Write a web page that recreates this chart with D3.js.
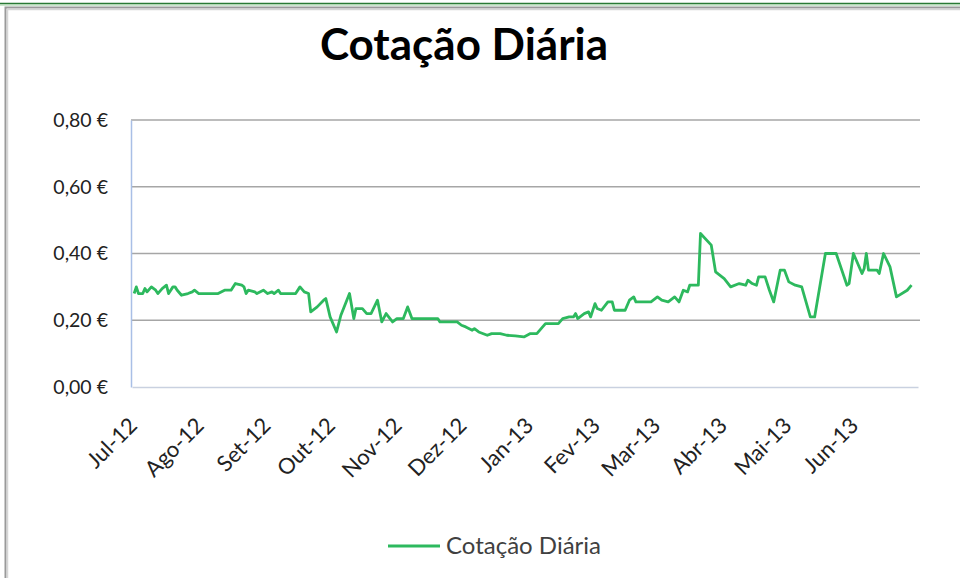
<!DOCTYPE html>
<html>
<head>
<meta charset="utf-8">
<script src="https://cdn.jsdelivr.net/npm/d3@7"></script>
<style>
body { margin: 0; background: #fff; }
svg { display: block; }
text { font-family: Lato, "Open Sans", sans-serif; }
</style>
</head>
<body>
<svg id="chart" width="960" height="578"></svg>
<script>
// daily price readings
var dates = [
  "2012-07-02","2012-07-03","2012-07-04","2012-07-06","2012-07-07","2012-07-08",
  "2012-07-10","2012-07-12","2012-07-13","2012-07-15","2012-07-17","2012-07-18",
  "2012-07-20","2012-07-21","2012-07-22","2012-07-24","2012-07-27","2012-07-29",
  "2012-07-30","2012-08-01","2012-08-10","2012-08-13","2012-08-16","2012-08-18",
  "2012-08-21","2012-08-22","2012-08-23","2012-08-24","2012-08-27","2012-08-28",
  "2012-08-31","2012-09-02","2012-09-04","2012-09-05","2012-09-07","2012-09-08",
  "2012-09-15","2012-09-17","2012-09-19","2012-09-21","2012-09-22","2012-09-25",
  "2012-09-28","2012-09-29","2012-10-01","2012-10-04","2012-10-06","2012-10-10",
  "2012-10-12","2012-10-13","2012-10-16","2012-10-18","2012-10-20","2012-10-23",
  "2012-10-25","2012-10-27","2012-10-30","2012-11-01","2012-11-04","2012-11-06",
  "2012-11-08","2012-11-20","2012-11-21","2012-11-29","2012-12-01","2012-12-03",
  "2012-12-06","2012-12-07","2012-12-09","2012-12-13","2012-12-15","2012-12-19",
  "2012-12-22","2012-12-26","2012-12-30","2013-01-02","2013-01-05","2013-01-09",
  "2013-01-15","2013-01-17","2013-01-20","2013-01-22","2013-01-23","2013-01-24",
  "2013-01-27","2013-01-29","2013-01-30","2013-02-01","2013-02-02","2013-02-04",
  "2013-02-07","2013-02-09","2013-02-10","2013-02-15","2013-02-17","2013-02-19",
  "2013-02-20","2013-02-27","2013-03-02","2013-03-04","2013-03-07","2013-03-10",
  "2013-03-12","2013-03-14","2013-03-16","2013-03-17","2013-03-21","2013-03-22",
  "2013-03-27","2013-03-29","2013-04-02","2013-04-05","2013-04-09","2013-04-12",
  "2013-04-13","2013-04-15","2013-04-17","2013-04-18","2013-04-21","2013-04-23",
  "2013-04-25","2013-04-28","2013-04-30","2013-05-02","2013-05-05","2013-05-08",
  "2013-05-12","2013-05-14","2013-05-19","2013-05-24","2013-05-29","2013-05-30",
  "2013-06-01","2013-06-05","2013-06-06","2013-06-07","2013-06-08","2013-06-12",
  "2013-06-13","2013-06-15","2013-06-18","2013-06-21","2013-06-26","2013-06-28"
];
var prices = [
  0.28,0.30,0.28,0.28,0.295,0.285,
  0.30,0.29,0.28,0.295,0.305,0.28,
  0.30,0.30,0.29,0.275,0.28,0.285,
  0.29,0.28,0.28,0.29,0.29,0.31,
  0.305,0.30,0.28,0.29,0.285,0.28,
  0.29,0.28,0.285,0.28,0.29,0.28,
  0.28,0.30,0.285,0.28,0.225,0.24,
  0.26,0.265,0.21,0.165,0.215,0.28,
  0.205,0.235,0.235,0.22,0.22,0.26,
  0.195,0.22,0.195,0.205,0.205,0.24,
  0.205,0.205,0.195,0.195,0.185,0.18,
  0.17,0.175,0.165,0.155,0.16,0.16,
  0.155,0.153,0.15,0.16,0.16,0.19,
  0.19,0.205,0.21,0.21,0.22,0.205,
  0.22,0.225,0.21,0.25,0.235,0.23,
  0.255,0.255,0.23,0.23,0.26,0.27,
  0.255,0.255,0.27,0.26,0.255,0.27,
  0.255,0.29,0.285,0.305,0.305,0.46,
  0.425,0.345,0.325,0.30,0.31,0.305,
  0.32,0.31,0.305,0.33,0.33,0.29,
  0.255,0.35,0.35,0.315,0.305,0.30,
  0.21,0.21,0.40,0.40,0.305,0.31,
  0.40,0.34,0.355,0.40,0.35,0.35,
  0.34,0.40,0.36,0.27,0.29,0.305
];
var month_labels = ["Jul-12","Ago-12","Set-12","Out-12","Nov-12","Dez-12",
                    "Jan-13","Fev-13","Mar-13","Abr-13","Mai-13","Jun-13"];
var y_ticks = [0, 0.2, 0.4, 0.6, 0.8];
var title = "Cotação Diária", series_name = "Cotação Diária";

(function() {
var svg = d3.select("#chart"),
    plot_left = 131, plot_right = 920, plot_top = 120, plot_bottom = 387,
    parse = d3.timeParse("%Y-%m-%d"),
    line_color = "#2db95e";

var data = dates.map(function(d, i) { return { date: parse(d), value: prices[i] }; });

var x = d3.scaleTime()
    .domain([new Date(2012, 6, 1), new Date(2013, 6, 1)])
    .range([plot_left + 1, 918]);
var y = d3.scaleLinear().domain([0, 0.8]).range([plot_bottom, plot_top]);

// outer frame (top strip + chart area border)
svg.append("line").attr("x1", 0).attr("x2", 960).attr("y1", 3.5).attr("y2", 3.5)
    .style("stroke", "#2a7a35").style("stroke-width", 1.5);
svg.append("line").attr("x1", 0).attr("x2", 960).attr("y1", 5).attr("y2", 5)
    .style("stroke", "#9ccf9f").style("stroke-width", 1);
svg.append("path").attr("d", "M5.5,600 V7.5 H970")
    .style("fill", "none").style("stroke", "#9a9a9a").style("stroke-width", 2);
svg.append("path").attr("d", "M7.5,600 V9.5 H970")
    .style("fill", "none").style("stroke", "#d6d6d6").style("stroke-width", 1.5);

// title
svg.append("text")
    .attr("x", 464).attr("y", 60)
    .attr("text-anchor", "middle")
    .style("font-size", "44px").style("font-weight", "bold").style("fill", "#000")
    .text(title);

// gridlines
svg.append("g").selectAll("line")
    .data(y_ticks.filter(function(d) { return d > 0; }))
  .enter().append("line")
    .attr("x1", plot_left).attr("x2", plot_right)
    .attr("y1", function(d) { return y(d); })
    .attr("y2", function(d) { return y(d); })
    .style("stroke", "#a6a6a6").style("stroke-width", 1.6);

// y axis
var y_axis = svg.append("g")
    .attr("transform", "translate(" + plot_left + ",0)")
    .call(d3.axisLeft(y).tickValues(y_ticks).tickSize(0).tickPadding(23)
          .tickFormat(function(d) { return d.toFixed(2).replace(".", ",") + " €"; }));
y_axis.select(".domain").style("stroke", "#a9bfe6").style("stroke-width", 1.5);
y_axis.selectAll("text").style("font-size", "19.5px").style("fill", "#222")
    .style("font-family", "Lato, sans-serif");

// x axis
var x_axis = svg.append("g")
    .attr("transform", "translate(0," + plot_bottom + ")")
    .call(d3.axisBottom(x)
          .tickValues(d3.timeMonth.range(new Date(2012, 6, 1), new Date(2013, 6, 1)))
          .tickSize(0)
          .tickFormat(function(d, i) { return month_labels[i]; }));
x_axis.select(".domain").style("stroke", "#c9d1e0").style("stroke-width", 1.5);
x_axis.selectAll("text")
    .attr("text-anchor", "end")
    .attr("dy", null).attr("y", 0)
    .attr("transform", "translate(6,40) rotate(-45)")
    .style("font-size", "22px").style("fill", "#222")
    .style("font-family", "Lato, sans-serif");

// series line
var line = d3.line()
    .x(function(d) { return x(d.date); })
    .y(function(d) { return y(d.value); });
svg.append("path")
    .datum(data)
    .attr("d", line)
    .style("fill", "none")
    .style("stroke", line_color)
    .style("stroke-width", 2.8)
    .style("stroke-linejoin", "round");

// legend
var legend = svg.append("g").attr("transform", "translate(388,546)");
legend.append("line").attr("x1", 0).attr("x2", 52).attr("y1", 0).attr("y2", 0)
    .style("stroke", line_color).style("stroke-width", 2.8);
legend.append("text").attr("x", 58).attr("y", 8)
    .style("font-size", "24px").style("fill", "#404040")
    .text(series_name);
})();
</script>
</body>
</html>
